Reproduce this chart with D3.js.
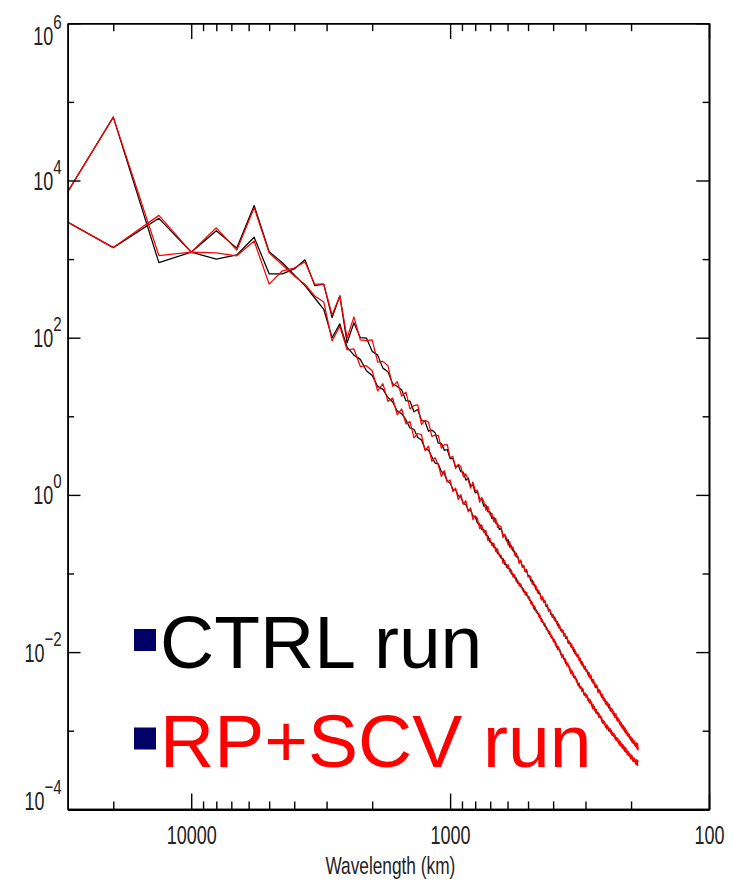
<!DOCTYPE html>
<html><head><meta charset="utf-8">
<script src="https://cdn.jsdelivr.net/npm/d3@7"></script>
<style>body{margin:0;background:#fff}</style>
</head><body><svg id="chart" width="733" height="887"></svg>
<script>
// Spectra, index i -> global wavenumber n = i+1 (wavelength = circumference / n)
const ctrlA = [
1520, 64000, 902, 1225, 1000, 1130, 1900, 650, 650, 750,
980, 460, 480, 180, 340, 86, 155, 100, 99, 67,
60, 41, 37, 26, 24, 21.7, 15.8, 15.6, 11.4, 12.2,
8.83, 8.67, 6.46, 6.68, 6.17, 4.55, 4.54, 3.69, 3.78, 2.89,
2.90, 2.27, 2.39, 1.97, 1.95, 1.54, 1.64, 1.30, 1.33, 1.06,
1.10, 0.887, 0.883, 0.716, 0.748, 0.608, 0.610, 0.498, 0.522, 0.438,
0.432, 0.362, 0.375, 0.307, 0.309, 0.260, 0.269, 0.216, 0.224, 0.193,
0.192, 0.163, 0.165, 0.140, 0.143, 0.124, 0.124, 0.105, 0.108, 0.094,
0.094, 0.0802, 0.0822, 0.0718, 0.0721, 0.0617, 0.0621, 0.0556, 0.0560, 0.0481,
0.0495, 0.0436, 0.0440, 0.0378, 0.0383, 0.0344, 0.0349, 0.0301, 0.0305, 0.0275,
0.0280, 0.0248, 0.0247, 0.0219, 0.0228, 0.0207, 0.0188, 0.0192, 0.0187, 0.0166,
0.0166, 0.0148, 0.0155, 0.0141, 0.0128, 0.0131, 0.0129, 0.0115, 0.0115, 0.0102,
0.0107, 0.00982, 0.00897, 0.00923, 0.00904, 0.00809, 0.00811, 0.00726, 0.00764, 0.0070,
0.00641, 0.00659, 0.00647, 0.00581, 0.00583, 0.00524, 0.00552, 0.00507, 0.00476, 0.00491,
0.00431, 0.00445, 0.00438, 0.00394, 0.00396, 0.00356, 0.00378, 0.00347, 0.0032, 0.0033,
0.00326, 0.00294, 0.00297, 0.00267, 0.00283, 0.00261, 0.00247, 0.00255, 0.00225, 0.00234,
0.00233, 0.00211, 0.00214, 0.00195, 0.00207, 0.00192, 0.00178, 0.0019, 0.00172, 0.00175,
0.00171, 0.00155, 0.00165, 0.0015, 0.00153, 0.00139, 0.00148, 0.00137, 0.00131, 0.00136,
0.00121, 0.00126, 0.00123, 0.00112, 0.00117, 0.00109, 0.00114, 0.00101, 0.00105, 0.001,
0.000935, 0.001, 0.00091, 0.000931, 0.000847, 0.000906, 0.000843, 0.000805, 0.000822, 0.000752,
0.000805, 0.000736, 0.000755, 0.00069, 0.00074, 0.000676, 0.000693, 0.000634, 0.000681, 0.000624,
0.00064, 0.000598, 0.000614];

const rpA = [
1520, 64000, 1110, 1225, 1200, 1100, 1700, 480, 710, 770,
920, 480, 480, 195, 340, 99, 184, 94, 92, 94,
49, 50, 44, 24, 27.5, 18.1, 20.3, 12.4, 13.7, 14.0,
7.87, 8.87, 8.51, 5.56, 5.75, 5.73, 3.95, 4.34, 4.35, 2.96,
3.10, 2.17, 2.45, 2.31, 1.70, 1.85, 1.53, 1.22, 1.46, 1.13,
1.15, 0.809, 0.925, 0.822, 0.637, 0.714, 0.556, 0.585, 0.455, 0.502,
0.385, 0.406, 0.393, 0.286, 0.316, 0.285, 0.229, 0.254, 0.204, 0.217,
0.171, 0.182, 0.161, 0.134, 0.149, 0.119, 0.127, 0.108, 0.113, 0.0897,
0.094, 0.0899, 0.0733, 0.0787, 0.0673, 0.0692, 0.0566, 0.061, 0.0547, 0.0459,
0.0507, 0.0426, 0.046, 0.0387, 0.0401, 0.0329, 0.0349, 0.0322, 0.0278, 0.0302,
0.0255, 0.0272, 0.0236, 0.0245, 0.0203, 0.0217, 0.0197, 0.0179, 0.0191, 0.0159,
0.0174, 0.0151, 0.0158, 0.0131, 0.0141, 0.0128, 0.0117, 0.0126, 0.0109, 0.0115,
0.00957, 0.0103, 0.0094, 0.00861, 0.00925, 0.00773, 0.00849, 0.00743, 0.00681, 0.00733,
0.00687, 0.00601, 0.00662, 0.00568, 0.00597, 0.00561, 0.00492, 0.00543, 0.00455, 0.00514,
0.00451, 0.00406, 0.00448, 0.00412, 0.00361, 0.00391, 0.00361, 0.00372, 0.00305, 0.00338,
0.00304, 0.00322, 0.00277, 0.00274, 0.0029, 0.00244, 0.00264, 0.00244, 0.00247, 0.00214,
0.00238, 0.00206, 0.00224, 0.00204, 0.00217, 0.00179, 0.00191, 0.00177, 0.00189, 0.00164,
0.00179, 0.00162, 0.00147, 0.0016, 0.00164, 0.00136, 0.00145, 0.00131, 0.00143, 0.00127,
0.00133, 0.00115, 0.00129, 0.00117, 0.00106, 0.00119, 0.00106, 0.00111, 0.000962, 0.00108,
0.000957, 0.00102, 0.000869, 0.000953, 0.000887, 0.000826, 0.000904, 0.000787, 0.000841, 0.000805,
0.000718, 0.000807, 0.000705, 0.000757, 0.00069, 0.000741, 0.000647, 0.000695, 0.000621, 0.0007,
0.000583, 0.000687, 0.00056];

const ctrlB = [
5000, 1400, 3300, 1225, 2300, 1380, 4800, 1240, 900, 630,
460, 320, 230, 100, 150, 76, 60, 53, 38, 33,
24, 22, 17.4, 15.2, 11.7, 10.8, 9.0, 7.1, 6.84, 5.38,
4.99, 3.85, 3.71, 3.06, 2.54, 2.48, 1.98, 1.86, 1.49, 1.42,
1.18, 1.16, 0.975, 0.942, 0.778, 0.753, 0.64, 0.638, 0.542, 0.530,
0.439, 0.427, 0.361, 0.361, 0.308, 0.301, 0.251, 0.247, 0.216, 0.213,
0.179, 0.177, 0.156, 0.155, 0.131, 0.131, 0.116, 0.116, 0.0986, 0.0986,
0.0879, 0.0881, 0.0752, 0.0755, 0.0676, 0.0664, 0.0582, 0.0586, 0.0527, 0.0516,
0.0459, 0.0450, 0.0401, 0.0393, 0.0343, 0.0344, 0.0308, 0.0310, 0.0271, 0.0267,
0.0240, 0.0236, 0.0212, 0.0209, 0.0188, 0.0186, 0.0167, 0.0166, 0.0150, 0.0148,
0.0133, 0.0135, 0.0116, 0.0118, 0.0109, 0.0108, 0.00955, 0.00883, 0.00897, 0.00813,
0.00826, 0.00716, 0.00728, 0.00676, 0.00673, 0.00597, 0.00555, 0.00566, 0.00552, 0.0048,
0.0049, 0.00456, 0.00456, 0.00406, 0.00378, 0.00396, 0.00348, 0.00358, 0.00337, 0.00339,
0.00305, 0.00286, 0.00296, 0.00278, 0.00281, 0.00252, 0.00238, 0.00246, 0.00232, 0.00234,
0.00211, 0.00199, 0.00206, 0.00203, 0.00179, 0.00185, 0.00175, 0.00166, 0.00171, 0.00151,
0.00157, 0.00148, 0.0015, 0.00136, 0.00128, 0.00133, 0.00126, 0.00128, 0.00116, 0.0011,
0.00115, 0.0011, 0.00112, 0.000998, 0.00104, 0.000995, 0.000948, 0.000991, 0.000883, 0.000923,
0.000881, 0.000839, 0.000879, 0.000783, 0.00082, 0.000782, 0.0008, 0.000729, 0.000697, 0.000729,
0.000697, 0.000714, 0.000652, 0.000622, 0.000652, 0.000624, 0.00064, 0.00057, 0.000598, 0.000558,
0.000535, 0.000573, 0.000536, 0.000513, 0.000538, 0.000481, 0.000505, 0.000483, 0.000451, 0.000474,
0.000445, 0.000469, 0.00042, 0.000442, 0.000425, 0.000407, 0.000429, 0.000385, 0.000405, 0.00038,
0.000392, 0.000367, 0.000361];

const rpB = [
5000, 1400, 3600, 1225, 2500, 1300, 4500, 1200, 840, 610,
480, 340, 285, 91, 140, 70, 72, 43, 44, 38,
21, 26, 15.5, 17.1, 10.4, 12.4, 8.0, 8.55, 5.31, 6.04,
5.86, 3.67, 4.16, 2.67, 2.98, 2.42, 1.72, 2.04, 1.46, 1.55,
1.10, 1.22, 0.869, 1.01, 0.76, 0.845, 0.611, 0.684, 0.483, 0.542,
0.504, 0.372, 0.415, 0.330, 0.353, 0.262, 0.282, 0.225, 0.243, 0.190,
0.206, 0.165, 0.171, 0.135, 0.147, 0.119, 0.130, 0.106, 0.111, 0.0899,
0.0964, 0.0785, 0.0824, 0.0689, 0.0741, 0.0619, 0.0638, 0.0535, 0.0578, 0.0482,
0.0504, 0.0410, 0.0430, 0.0358, 0.0385, 0.0321, 0.0330, 0.0282, 0.0297, 0.0243,
0.0257, 0.0220, 0.0232, 0.0195, 0.0202, 0.0173, 0.0184, 0.0155, 0.0160, 0.0138,
0.0146, 0.0123, 0.0128, 0.0107, 0.0117, 0.0101, 0.0102, 0.00843, 0.0094, 0.00851,
0.00753, 0.00785, 0.00664, 0.00724, 0.00628, 0.0064, 0.0053, 0.00593, 0.00504, 0.00526,
0.00468, 0.00489, 0.00416, 0.00435, 0.0037, 0.00406, 0.00356, 0.00366, 0.00314, 0.00347,
0.00319, 0.0028, 0.00303, 0.00265, 0.00287, 0.00247, 0.00261, 0.00224, 0.00248, 0.00218,
0.00226, 0.0019, 0.00215, 0.00185, 0.00196, 0.00169, 0.00187, 0.00162, 0.00167, 0.00148,
0.00164, 0.00145, 0.00144, 0.00149, 0.00125, 0.00136, 0.00121, 0.00131, 0.00113, 0.00121,
0.00105, 0.00118, 0.00105, 0.00109, 0.000972, 0.00107, 0.000927, 0.00101, 0.000863, 0.000944,
0.000861, 0.00092, 0.000802, 0.000859, 0.000748, 0.000818, 0.000746, 0.0008, 0.000681, 0.000746,
0.00065, 0.000731, 0.000637, 0.000682, 0.000594, 0.000668, 0.000597, 0.000625, 0.000546, 0.000612,
0.000547, 0.000586, 0.0005, 0.00055, 0.000491, 0.00054, 0.000482, 0.000506, 0.000441, 0.000497,
0.000435, 0.00048, 0.00041, 0.000452, 0.000406, 0.000447, 0.0004, 0.000422, 0.000369, 0.000427,
0.000366, 0.000422, 0.000396];

const circumferenceKm = 40000;
const xDomain = [30000, 100];
const yDomain = [1e-4, 1e6];
const xMajorTicks = [10000, 1000, 100];
const xMinorTicks = [20000, 9000, 8000, 7000, 6000, 5000, 4000, 3000, 2000, 900, 800, 700, 600, 500, 400, 300, 200];
const yMajorTicks = [1e-4, 1e-2, 1, 1e2, 1e4, 1e6];
const yMinorTicks = [1e-3, 1e-1, 10, 1e3, 1e5];
const legendLabels = ["CTRL run", "RP+SCV run"];
const legendColors = ["#000000", "#ff0000"];
const xTitle = "Wavelength (km)";

const m = {left: 67.7, right: 709, top: 23.3, bottom: 809.3};
const svg = d3.select("#chart");
svg.append("rect").attr("width", 733).attr("height", 887).attr("fill", "#fff");

const x = d3.scaleLog().domain(xDomain).range([m.left, m.right]);
const y = d3.scaleLog().domain(yDomain).range([m.bottom, m.top]);

svg.append("clipPath").attr("id", "plotClip").append("rect")
  .attr("x", m.left).attr("y", m.top).attr("width", m.right - m.left).attr("height", m.bottom - m.top);

const toPts = arr => arr.map((v, i) => ({w: circumferenceKm / (i + 1), v}));
const line = d3.line().x(d => x(d.w)).y(d => y(d.v));
const plot = svg.append("g").attr("clip-path", "url(#plotClip)");
[[ctrlA, "#000"], [ctrlB, "#000"], [rpA, "#ff0000"], [rpB, "#ff0000"]].forEach(([arr, c]) => {
  plot.append("path").datum(toPts(arr)).attr("d", line)
    .attr("fill", "none").attr("stroke", c).attr("stroke-width", 1.25).attr("stroke-linejoin", "round");
});

const labelFont = "'Liberation Sans', Arial, sans-serif";
const sx = 0.72;
const xLen = 15.7, yLen = 12.8;
function styleAxis(g, sw) {
  g.select(".domain").attr("stroke", "#000").attr("stroke-width", sw);
  g.selectAll(".tick line").attr("stroke", "#000").attr("stroke-width", 1.4);
}
// left
const gl = svg.append("g").attr("transform", `translate(${m.left},0)`)
  .call(d3.axisLeft(y).tickValues(yMajorTicks).tickSizeInner(-yLen).tickSizeOuter(0).tickPadding(6));
styleAxis(gl, 1.6);
gl.selectAll(".tick text").each(function(d) {
  const t = d3.select(this);
  const e = Math.round(Math.log10(d));
  let shift = 0;
  if (d === 1e6) shift = 12;
  if (d === 1e-4) shift = -9;
  t.text(null).attr("x", 0).attr("y", 0).attr("dy", "0.36em")
    .attr("transform", `translate(-6,${shift}) scale(${sx},1)`)
    .attr("font-family", labelFont).attr("font-size", 25).attr("fill", "#222");
  t.append("tspan").text("10");
  t.append("tspan").attr("dy", -16).attr("font-size", 21).text(e < 0 ? "\u2212" + Math.abs(e) : String(e));
});
svg.append("g").attr("transform", `translate(${m.left},0)`)
  .call(d3.axisLeft(y).tickValues(yMinorTicks).tickSizeInner(-yLen / 2).tickSizeOuter(0).tickFormat(""))
  .call(g => styleAxis(g, 1.6));
// right
svg.append("g").attr("transform", `translate(${m.right},0)`)
  .call(d3.axisRight(y).tickValues(yMajorTicks).tickSizeInner(-yLen).tickSizeOuter(0).tickFormat(""))
  .call(g => styleAxis(g, 1.6));
svg.append("g").attr("transform", `translate(${m.right},0)`)
  .call(d3.axisRight(y).tickValues(yMinorTicks).tickSizeInner(-yLen / 2).tickSizeOuter(0).tickFormat(""))
  .call(g => styleAxis(g, 1.6));
// bottom
const gb = svg.append("g").attr("transform", `translate(0,${m.bottom})`)
  .call(d3.axisBottom(x).tickValues(xMajorTicks).tickSizeInner(-xLen).tickSizeOuter(0).tickPadding(17).tickFormat(d3.format("d")));
styleAxis(gb, 2.2);
gb.selectAll(".tick text").attr("transform", `scale(${sx},1)`)
  .attr("font-family", labelFont).attr("font-size", 25).attr("fill", "#222");
svg.append("g").attr("transform", `translate(0,${m.bottom})`)
  .call(d3.axisBottom(x).tickValues(xMinorTicks).tickSizeInner(-xLen / 2).tickSizeOuter(0).tickFormat(""))
  .call(g => styleAxis(g, 2.2));
// top
svg.append("g").attr("transform", `translate(0,${m.top})`)
  .call(d3.axisTop(x).tickValues(xMajorTicks).tickSizeInner(-xLen).tickSizeOuter(0).tickFormat(""))
  .call(g => styleAxis(g, 1.6));
svg.append("g").attr("transform", `translate(0,${m.top})`)
  .call(d3.axisTop(x).tickValues(xMinorTicks).tickSizeInner(-xLen / 2).tickSizeOuter(0).tickFormat(""))
  .call(g => styleAxis(g, 1.6));

svg.append("text").attr("transform", `translate(${(m.left + m.right) / 2 + 2},874) scale(${sx},1)`)
  .attr("text-anchor", "middle").attr("font-family", labelFont).attr("font-size", 24).attr("fill", "#222")
  .text(xTitle);

// legend
const lg = svg.append("g");
legendLabels.forEach((lab, i) => {
  const yy = 668 + i * 98.5;
  lg.append("rect").attr("x", 134).attr("y", yy - 39).attr("width", 22).attr("height", 22).attr("fill", "#000066");
  lg.append("text").attr("x", 160).attr("y", yy)
    .attr("font-family", "'Liberation Sans', Arial, sans-serif").attr("font-size", 75)
    .attr("fill", legendColors[i]).text(lab);
});
</script>
</body></html>
